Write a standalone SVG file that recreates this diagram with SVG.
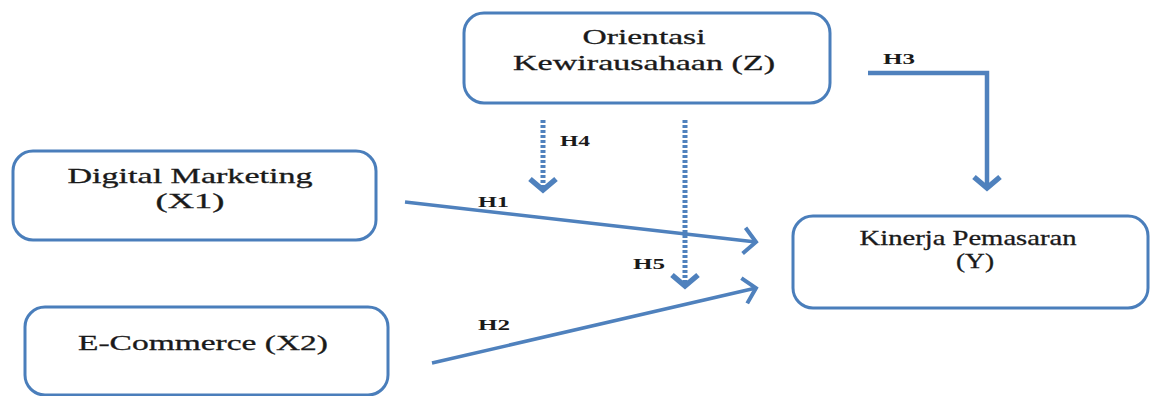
<svg xmlns="http://www.w3.org/2000/svg" width="1151" height="396" viewBox="0 0 1151 396">
<style>
.box{fill:#fff;stroke:#4a7ebb;stroke-width:3}
.t{font-family:'Liberation Serif','Times New Roman',serif;font-size:21px;fill:#1a1a1a;text-anchor:middle;stroke:#1a1a1a;stroke-width:0.3}
.h{font-family:'Liberation Serif','Times New Roman',serif;font-size:15px;font-weight:bold;fill:#1a1a1a}
.ln{fill:none;stroke:#4f81bd;stroke-width:3.5}
.dot{fill:none;stroke:#4f81bd;stroke-width:5;stroke-dasharray:3 2}
</style>
<defs>
<marker id="ah" markerUnits="userSpaceOnUse" markerWidth="40" markerHeight="40" viewBox="-20 -20 40 40" refX="0" refY="0" orient="auto" overflow="visible">
<path d="M-12,-13 L0,0 L-12,13" fill="none" stroke="#4f81bd" stroke-width="4"/>
</marker>
<marker id="ahb" markerUnits="userSpaceOnUse" markerWidth="40" markerHeight="40" viewBox="-20 -20 40 40" refX="0" refY="0" orient="auto" overflow="visible">
<path d="M-11,-13 L0,0 L-11,13" fill="none" stroke="#4f81bd" stroke-width="5.5"/>
</marker>
</defs>
<rect width="1151" height="396" fill="#fff"/>
<g id="connectors">
<path class="ln" d="M868,73 L987,73 L987,188" style="stroke-width:4.5" marker-end="url(#ahb)"/>
<path class="dot" d="M543,120 L543,190" marker-end="url(#ahb)"/>
<path class="dot" d="M685,120 L685,286" marker-end="url(#ahb)"/>
<path class="ln" d="M405,202 L756,242" marker-end="url(#ah)"/>
<path class="ln" d="M432,363 L756,288" marker-end="url(#ah)"/>
<text class="h" x="478" y="207" textLength="31" lengthAdjust="spacingAndGlyphs">H1</text>
<text class="h" x="478" y="330" textLength="32" lengthAdjust="spacingAndGlyphs">H2</text>
<text class="h" x="883" y="64" textLength="32" lengthAdjust="spacingAndGlyphs">H3</text>
<text class="h" x="560" y="146" textLength="30" lengthAdjust="spacingAndGlyphs">H4</text>
<text class="h" x="633" y="269" textLength="32" lengthAdjust="spacingAndGlyphs">H5</text>
</g>
<g id="node-z">
<rect class="box" x="464" y="13" width="366" height="90" rx="20"/>
<text class="t" x="644" y="44" textLength="123" lengthAdjust="spacingAndGlyphs">Orientasi</text>
<text class="t" x="644" y="70" textLength="262" lengthAdjust="spacingAndGlyphs">Kewirausahaan (Z)</text>
</g>
<g id="node-x1">
<rect class="box" x="13" y="151" width="363" height="89" rx="20"/>
<text class="t" x="190" y="183" textLength="245" lengthAdjust="spacingAndGlyphs">Digital Marketing</text>
<text class="t" x="190" y="208" textLength="69" lengthAdjust="spacingAndGlyphs">(X1)</text>
</g>
<g id="node-x2">
<rect class="box" x="25" y="307" width="363" height="88" rx="20"/>
<text class="t" x="203" y="350" textLength="250" lengthAdjust="spacingAndGlyphs">E-Commerce (X2)</text>
</g>
<g id="node-y">
<rect class="box" x="793" y="216" width="355" height="92" rx="20"/>
<text class="t" x="968" y="245" textLength="217" lengthAdjust="spacingAndGlyphs">Kinerja Pemasaran</text>
<text class="t" x="975" y="268" textLength="38" lengthAdjust="spacingAndGlyphs">(Y)</text>
</g>
</svg>
